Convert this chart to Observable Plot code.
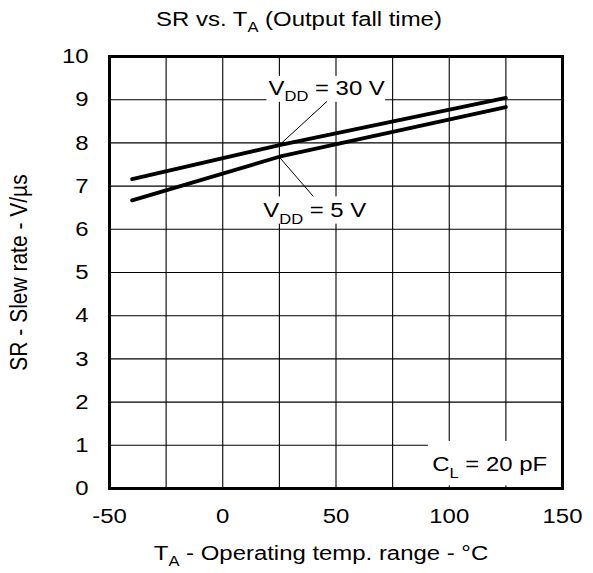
<!DOCTYPE html>
<html>
<head>
<meta charset="utf-8">
<script src="https://cdn.jsdelivr.net/npm/d3@7"></script>
<script src="https://cdn.jsdelivr.net/npm/@observablehq/plot@0.6"></script>
<style>
  html, body { margin: 0; padding: 0; background: #fff; }
  svg { font-family: "Liberation Sans", Arial, sans-serif; }
</style>
</head>
<body>
<div id="chart"></div>
<script>
// Data
const temps = [-40, 25, 125];
const sr30 = [7.16, 7.95, 9.04];
const sr5  = [6.67, 7.68, 8.83];

const xTicks = [-50, 0, 50, 100, 150];
const xGrid = [-50, -25, 0, 25, 50, 75, 100, 125, 150];
const yTicks = [0, 1, 2, 3, 4, 5, 6, 7, 8, 9, 10];

const titleText = "SR vs. T_{A} (Output fall time)";
const xLabelText = "T_{A} - Operating temp. range - °C";
const yLabelText = "SR - Slew rate - V/µs";

// Annotations (data units)
const labelNames = ["V_{DD} = 30 V", "V_{DD} = 5 V", "C_{L} = 20 pF"];
const labelX = [20.2, 17.9, 92.5];
const labelY = [9.27, 6.44, 0.555];
const boxX1 = [19.5, 17.6, 90.8];
const boxX2 = [71.9, 63, 149.7];
const boxY1 = [8.94, 6.12, 0.06];
const boxY2 = [9.54, 6.75, 1.09];
const leaderX1 = [25, 25];
const leaderY1 = [7.95, 7.67];
const leaderX2 = [46, 40];
const leaderY2 = [8.96, 6.76];

const curves = [
  ...temps.map((t, i) => ({t, v: sr30[i], s: "30"})),
  ...temps.map((t, i) => ({t, v: sr5[i], s: "5"}))
];
const boxes = boxX1.map((_, i) => ({x1: boxX1[i], x2: boxX2[i], y1: boxY1[i], y2: boxY2[i]}));
const labels = labelNames.map((n, i) => ({n, x: labelX[i], y: labelY[i]}));
const leaders = leaderX1.map((_, i) => ({x1: leaderX1[i], y1: leaderY1[i], x2: leaderX2[i], y2: leaderY2[i]}));

const FS = 21;
const SUB = 14.5;
const SUBDY = 6.5;

const plot = Plot.plot({
  width: 593,
  height: 573,
  marginLeft: 109,
  marginRight: 31,
  marginTop: 56,
  marginBottom: 85,
  style: {fontFamily: "Liberation Sans, Arial, sans-serif", fontSize: FS + "px", color: "black", background: "white"},
  x: {domain: [-50, 150]},
  y: {domain: [0, 10]},
  marks: [
    Plot.gridX(xGrid, {stroke: "black", strokeOpacity: 1, strokeWidth: 1.1}),
    Plot.gridY(yTicks, {stroke: "black", strokeOpacity: 1, strokeWidth: 1.1}),
    Plot.rect(boxes, {x1: "x1", x2: "x2", y1: "y1", y2: "y2", fill: "white"}),
    Plot.line(curves, {x: "t", y: "v", z: "s", stroke: "black", strokeWidth: 3.8}),
    Plot.link(leaders, {x1: "x1", y1: "y1", x2: "x2", y2: "y2", stroke: "black", strokeWidth: 1}),
    Plot.text(labels, {x: "x", y: "y", text: "n", textAnchor: "start", lineAnchor: "middle", fill: "black", fontSize: FS}),
    Plot.frame({stroke: "black", strokeWidth: 3}),
    Plot.axisX(xTicks, {tickSize: 0, tickPadding: 20, label: null, fontSize: FS, tickFormat: d => String(d)}),
    Plot.axisY(yTicks, {tickSize: 0, tickPadding: 21, label: null, fontSize: FS, tickFormat: d => String(d)}),
    Plot.text([titleText], {frameAnchor: "top", textAnchor: "middle", lineAnchor: "middle", dx: -37, dy: -37.5, fontSize: FS, fill: "black"}),
    Plot.text([xLabelText], {frameAnchor: "bottom", textAnchor: "middle", lineAnchor: "middle", dx: -15, dy: 64.5, fontSize: FS, fill: "black"}),
    Plot.text([yLabelText], {frameAnchor: "left", textAnchor: "middle", lineAnchor: "middle", dx: -90, rotate: -90, fontSize: FS, fill: "black"})
  ]
});

// Post-process: subscripts and horizontal stretch of text
const SX = 1.14;
d3.select(plot).selectAll("text").each(function() {
  const el = d3.select(this);
  const txt = this.textContent;
  if (txt.includes("_{")) {
    el.text(null);
    const parts = txt.split(/(_\{[^}]*\})/);
    let shifted = false;
    parts.forEach(p => {
      if (!p) return;
      if (p.startsWith("_{")) {
        el.append("tspan").attr("dy", SUBDY).attr("font-size", SUB).text(p.slice(2, -1));
        shifted = true;
      } else {
        const t = el.append("tspan").text(p);
        if (shifted) { t.attr("dy", -SUBDY); shifted = false; }
      }
    });
  }
  const tr = this.getAttribute("transform");
  const rotated = tr && tr.includes("rotate");
  const sc = rotated ? ` scale(1,${SX})` : ` scale(${SX},1)`;
  if (tr) {
    this.setAttribute("transform", tr + sc);
  } else {
    const x = this.getAttribute("x") || 0, y = this.getAttribute("y") || 0;
    this.removeAttribute("x"); this.removeAttribute("y");
    this.setAttribute("transform", `translate(${x},${y})` + sc);
  }
});

document.getElementById("chart").appendChild(plot);
</script>
</body>
</html>
